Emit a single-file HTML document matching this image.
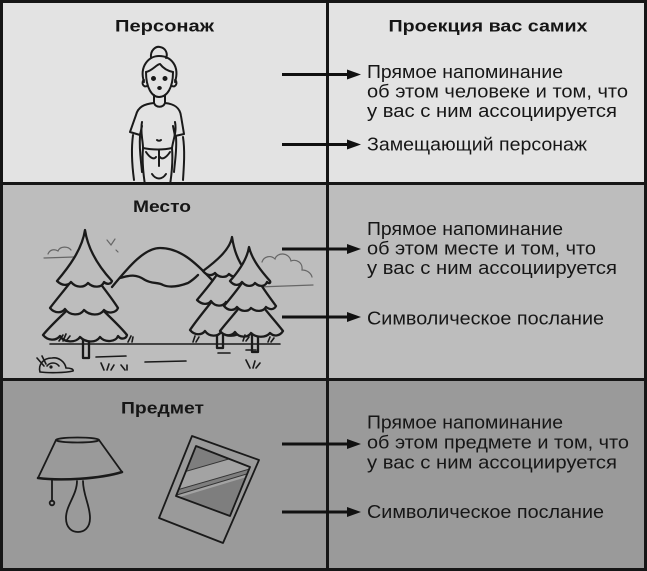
<!DOCTYPE html>
<html><head><meta charset="utf-8">
<style>
html,body{margin:0;padding:0;background:#fff;}
svg{display:block;}
text{font-family:"Liberation Sans","DejaVu Sans",sans-serif;fill:#161616;}
.h{font-weight:bold;font-size:17px;}
.b{font-size:18px;}
</style></head>
<body>
<svg width="647" height="571" viewBox="0 0 647 571" xmlns="http://www.w3.org/2000/svg">
<defs>
<clipPath id="inner"><polygon points="196,446 250,467 230,516 176,496"/></clipPath>
<clipPath id="p1"><rect x="0" y="0" width="647" height="183"/></clipPath>
</defs>
<!-- panels -->
<rect x="0" y="0" width="647" height="183" fill="#e3e3e3"/>
<rect x="0" y="183" width="647" height="197" fill="#bdbdbd"/>
<rect x="0" y="380" width="647" height="191" fill="#9a9a9a"/>
<!-- grid -->
<rect x="1.5" y="1.5" width="644" height="568" fill="none" stroke="#161616" stroke-width="3"/>
<line x1="0" y1="183.5" x2="647" y2="183.5" stroke="#161616" stroke-width="3"/>
<line x1="0" y1="379.5" x2="647" y2="379.5" stroke="#161616" stroke-width="3"/>
<line x1="327.5" y1="0" x2="327.5" y2="571" stroke="#161616" stroke-width="3"/>

<!-- headers -->
<text class="h" x="115" y="31.5" textLength="99" lengthAdjust="spacingAndGlyphs">Персонаж</text>
<text class="h" x="388.5" y="31.5" textLength="199" lengthAdjust="spacingAndGlyphs">Проекция вас самих</text>
<text class="h" x="133" y="212" textLength="58" lengthAdjust="spacingAndGlyphs">Место</text>
<text class="h" x="121" y="413.5" textLength="83" lengthAdjust="spacingAndGlyphs">Предмет</text>

<!-- body text top -->
<text class="b" x="367" y="78" textLength="196" lengthAdjust="spacingAndGlyphs">Прямое напоминание</text>
<text class="b" x="367" y="97.5" textLength="261" lengthAdjust="spacingAndGlyphs">об этом человеке и том, что</text>
<text class="b" x="367" y="117" textLength="250" lengthAdjust="spacingAndGlyphs">у вас с ним ассоциируется</text>
<text class="b" x="367" y="150.5" textLength="220" lengthAdjust="spacingAndGlyphs">Замещающий персонаж</text>
<!-- body text middle -->
<text class="b" x="367" y="235" textLength="196" lengthAdjust="spacingAndGlyphs">Прямое напоминание</text>
<text class="b" x="367" y="254.5" textLength="229" lengthAdjust="spacingAndGlyphs">об этом месте и том, что</text>
<text class="b" x="367" y="274" textLength="250" lengthAdjust="spacingAndGlyphs">у вас с ним ассоциируется</text>
<text class="b" x="367" y="324.5" textLength="237" lengthAdjust="spacingAndGlyphs">Символическое послание</text>
<!-- body text bottom -->
<text class="b" x="367" y="428.5" textLength="196" lengthAdjust="spacingAndGlyphs">Прямое напоминание</text>
<text class="b" x="367" y="448.5" textLength="262" lengthAdjust="spacingAndGlyphs">об этом предмете и том, что</text>
<text class="b" x="367" y="468.5" textLength="250" lengthAdjust="spacingAndGlyphs">у вас с ним ассоциируется</text>
<text class="b" x="367" y="518" textLength="237" lengthAdjust="spacingAndGlyphs">Символическое послание</text>

<!-- arrows -->
<g stroke="#111" stroke-width="3" fill="#111">
<line x1="282" y1="74.5" x2="350" y2="74.5"/>
<line x1="282" y1="144.5" x2="350" y2="144.5"/>
<line x1="282" y1="249" x2="350" y2="249"/>
<line x1="282" y1="317" x2="350" y2="317"/>
<line x1="282" y1="444" x2="350" y2="444"/>
<line x1="282" y1="512" x2="350" y2="512"/>
</g>
<g fill="#111">
<polygon points="347,69.5 361,74.5 347,79.5"/>
<polygon points="347,139.5 361,144.5 347,149.5"/>
<polygon points="347,244 361,249 347,254"/>
<polygon points="347,312 361,317 347,322"/>
<polygon points="347,439 361,444 347,449"/>
<polygon points="347,507 361,512 347,517"/>
</g>

<!-- person -->
<g clip-path="url(#p1)" fill="none" stroke="#1a1a1a" stroke-width="2" stroke-linecap="round" stroke-linejoin="round">
<path d="M151,58 C150,50 156,46 160,47 C166,48 168,54 166,58"/>
<path d="M144,82 C139,66 149,56 159,56 C171,56 180,66 175,82"/>
<path d="M146,72 C146,88 152,97 159,97 C167,97 173,88 173,72"/>
<path d="M146,72 C152,71 157,64 160,64 C163,68 168,71 173,72"/>
<path d="M144,80 C141,82 143,88 147,86"/>
<path d="M175,80 C178,82 176,88 172,86"/>
<circle cx="153.5" cy="78.5" r="1.5" fill="#1a1a1a"/>
<circle cx="165" cy="78.5" r="1.5" fill="#1a1a1a"/>
<ellipse cx="159.5" cy="88" rx="1.3" ry="1" fill="#1a1a1a"/>
<path d="M154,95 L154,103"/><path d="M165,95 L165,103"/>
<path d="M154,103 C156,108 163,108 165,103"/>
<path d="M154,103 C144,104 138,107 136,115 L130,132 L140,135 L142,126"/>
<path d="M142,122 C140,132 143,140 143,148"/>
<path d="M165,103 C175,104 180,108 181,116 L184,134 L175,136 L173,126"/>
<path d="M175,122 C177,132 173,140 172,148"/>
<path d="M143,148 C152,150 164,150 172,148"/>
<path d="M157,140 C158,141 160,141 161,140"/>
<path d="M133,135 C131,150 132,165 134,180"/>
<path d="M140,136 C139,150 141,160 142,172"/>
<path d="M183,137 C185,150 184,165 183,180"/>
<path d="M176,137 C177,150 175,160 174,172"/>
<path d="M143,148 C142,160 143,172 145,185"/>
<path d="M172,148 C173,160 172,172 170,185"/>
<path d="M146,152 C150,158 154,160 156,157"/>
<path d="M170,152 C166,158 162,160 160,157"/>
<path d="M159,150 L159,166"/>
<path d="M152,174 C156,180 162,180 166,174"/>
</g>

<!-- forest -->
<g fill="none" stroke="#666" stroke-width="1.2" stroke-linecap="round">
<path d="M44,258 L74,257"/><path d="M48,254 C50,249 55,249 58,251 C60,246 68,246 71,250"/>
<path d="M262,262 C264,256 271,255 275,259 C277,252 289,252 291,261 C296,259 303,262 302,270 C307,270 311,273 312,277"/>
<path d="M258,287 L313,285"/>
<path d="M107,240 L111,245 L115,239"/><path d="M116,250 L118,252"/>
</g>
<g fill="#bdbdbd" stroke="#1a1a1a" stroke-width="2.3" stroke-linejoin="round" stroke-linecap="round">
<path d="M112,287 C130,265 145,248 160,248 C180,248 195,262 212,280" fill="none"/>
<path d="M120,278 C128,276 135,273 145,280 C152,284 158,282 163,285 C170,288 180,286 188,283 C193,280 196,277 198,275" fill="none"/>
<!-- left tree -->
<rect x="83" y="335" width="6" height="23"/>
<path d="M85,290 C75,305 55,320 43,335 C48,341 56,341 60,336 C64,343 76,343 80,337 C86,343 96,343 100,337 C105,343 116,342 118,336 C121,340 126,339 127,335 C115,320 95,305 85,290 Z"/>
<path d="M85,260 C78,275 62,292 50,308 C55,314 62,313 65,309 C70,316 80,316 84,310 C90,316 100,316 104,310 C108,314 116,313 118,308 C108,292 92,275 85,260 Z"/>
<path d="M85,230 C82,250 68,268 57,281 C62,286 68,286 71,282 C76,288 84,288 88,283 C93,288 102,288 104,282 C107,285 111,284 112,281 C100,268 88,250 85,230 Z"/>
<!-- right tree 1 -->
<rect x="217" y="330" width="6" height="18"/>
<path d="M224,285 C214,300 200,315 190,330 C195,336 202,335 205,331 C209,337 218,337 221,332 C226,337 236,337 240,332 C244,336 252,335 255,330 C245,315 232,300 224,285 Z"/>
<path d="M226,260 C218,275 207,288 197,300 C202,305 208,305 211,301 C215,307 223,307 226,302 C231,307 240,307 243,301 C246,304 250,303 250,300 C242,288 232,275 226,260 Z"/>
<path d="M232,237 C230,250 215,262 203,271 C207,276 212,276 215,273 C219,278 226,278 229,274 C233,278 240,278 242,273 C244,275 246,274 246,271 C238,262 234,250 232,237 Z"/>
<!-- right tree 2 -->
<rect x="252" y="331" width="6" height="21"/>
<path d="M252,290 C243,305 230,318 220,331 C225,337 232,336 235,332 C239,338 248,338 251,333 C256,338 266,338 270,333 C274,337 280,336 283,331 C273,318 260,305 252,290 Z"/>
<path d="M251,268 C244,282 233,295 224,306 C228,311 234,311 237,307 C241,312 248,312 251,308 C256,312 263,312 266,307 C270,310 274,310 276,306 C268,295 258,282 251,268 Z"/>
<path d="M249,247 C247,260 238,272 230,281 C234,286 239,286 242,282 C246,287 252,287 255,283 C259,287 265,287 267,282 C269,284 271,283 270,281 C262,272 252,260 249,247 Z"/>
</g>
<g fill="none" stroke="#1a1a1a" stroke-width="1.6" stroke-linecap="round">
<path d="M50,344 L280,344"/>
<path d="M59,341 L63,335 M63,341 L66,334 M66,341 L70,336"/>
<path d="M128,342 L131,336 M132,342 L133,337"/>
<path d="M193,342 L195,336 M196,342 L199,337"/>
<path d="M243,341 L245,335 M246,341 L249,337"/>
<path d="M268,342 L270,337 M271,342 L274,338"/>
<path d="M96,357 L126,356"/><path d="M145,362 L186,361"/>
<path d="M218,353 L230,353"/><path d="M246,350 L256,350"/>
<path d="M104,370 L101,363 M107,370 L109,364 M111,370 L114,365"/>
<path d="M125,370 L121,365 M127,370 L127,365"/>
<path d="M250,368 L246,360 M253,368 L255,361 M256,368 L260,363"/>
<path d="M37,358 L44,366 M42,356 L46,364"/>
<path d="M40,372 C38,365 43,358 52,358 C59,357 65,362 66,368 C70,368 74,369 73,371 C65,373 48,373 40,372 Z"/>
<path d="M47,366 C50,362 56,362 59,366"/>
<circle cx="51" cy="367" r="0.8" fill="#1a1a1a"/>
</g>

<!-- lamp -->
<g fill="none" stroke="#1a1a1a" stroke-width="1.8" stroke-linecap="round" stroke-linejoin="round">
<ellipse cx="77.5" cy="440" rx="21.5" ry="2.5"/>
<path d="M56,440 L38,478 M99,440 L122,472"/>
<path d="M38,478 C60,481 100,479 122,472" stroke-width="2.5"/>
<path d="M77,481 C77,495 66,505 66,518 C66,528 72,532 78,532 C84,532 90,528 90,518 C90,505 83,495 83,481"/>
<path d="M52,480 L52,501"/>
<circle cx="52" cy="503" r="2.3"/>
</g>
<!-- photo -->
<polygon points="192,436 259,460 223,543 159,518" fill="#9a9a9a" stroke="#1a1a1a" stroke-width="1.8" stroke-linejoin="round"/>
<polygon points="196,446 250,467 230,516 176,496" fill="#7e7e7e"/>
<g clip-path="url(#inner)">
<polygon points="170,476 260,450 260,466 170,492" fill="#a3a3a3"/>
<polygon points="170,497 260,470 260,473 170,500" fill="#a3a3a3"/>
<g stroke="#333" stroke-width="1" fill="none">
<line x1="170" y1="476" x2="260" y2="450"/>
<line x1="170" y1="492" x2="260" y2="466"/>
<line x1="170" y1="497" x2="260" y2="470"/>
</g>
</g>
<polygon points="196,446 250,467 230,516 176,496" fill="none" stroke="#1a1a1a" stroke-width="1.8" stroke-linejoin="round"/>
</svg>
</body></html>
